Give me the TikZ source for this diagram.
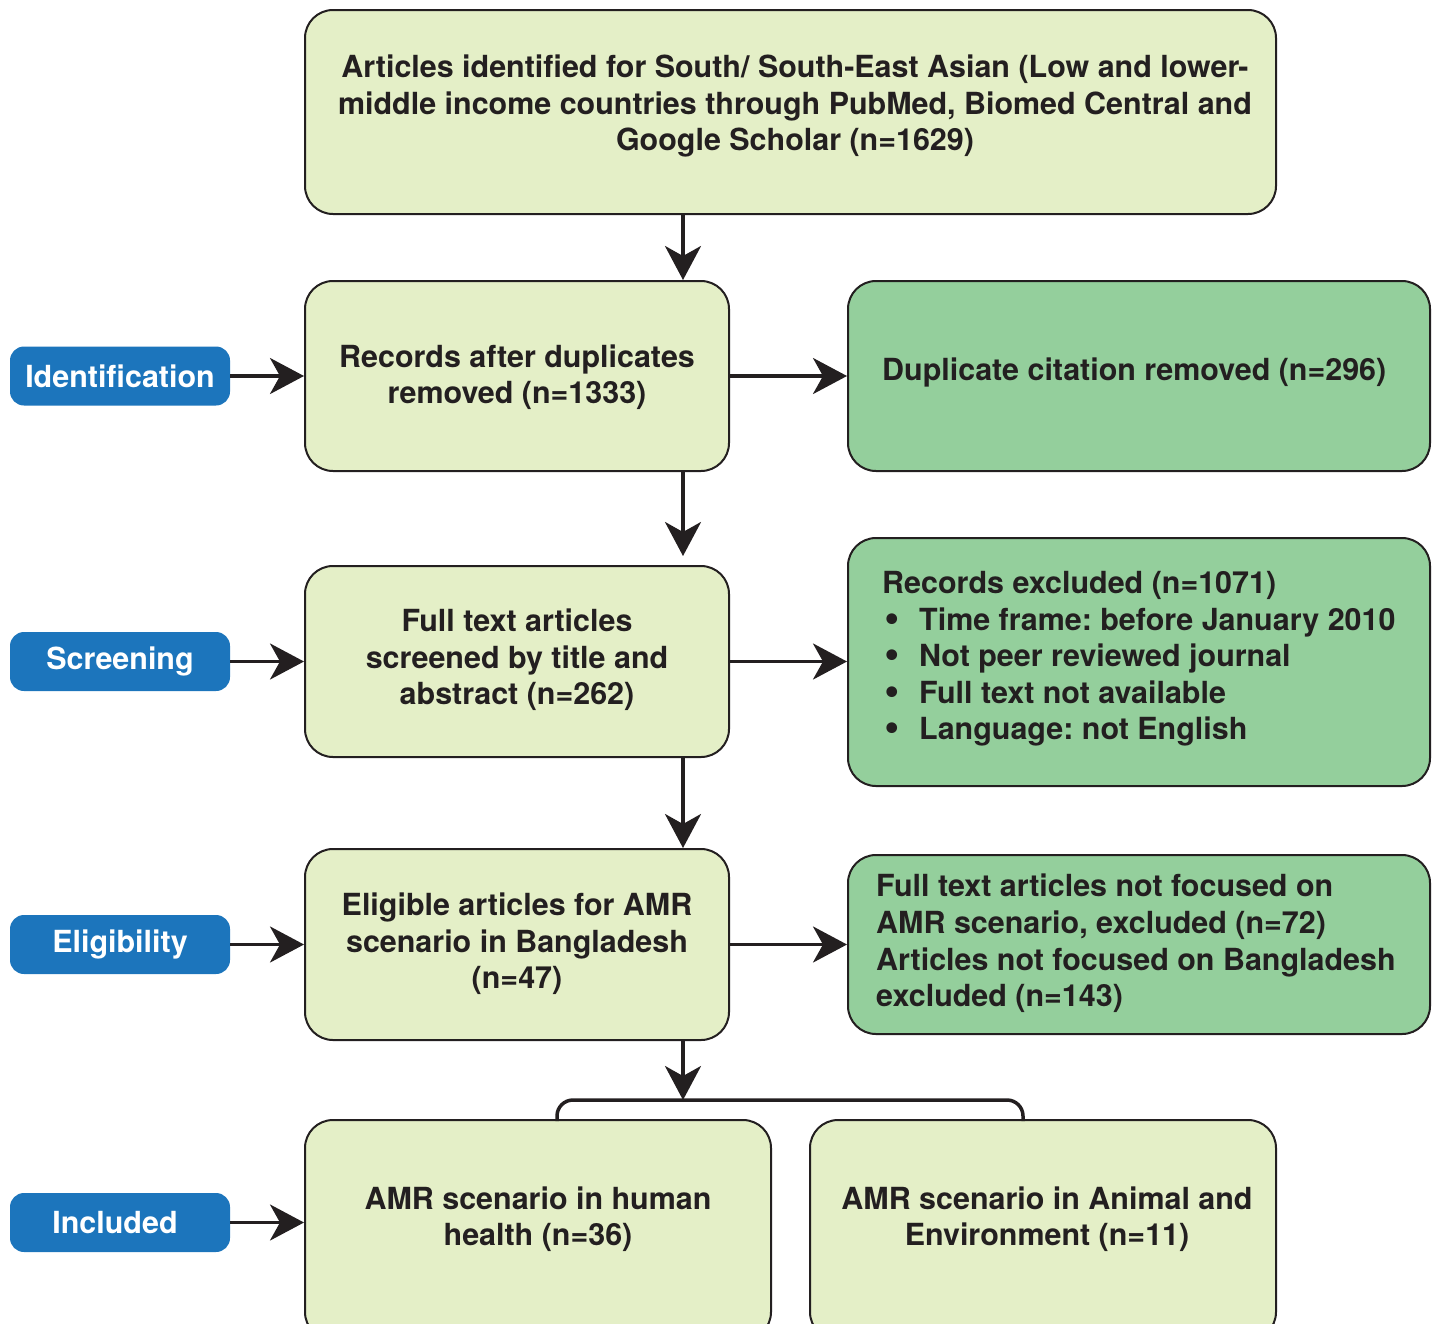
\documentclass[tikz,border=0pt]{standalone}
\usepackage{fontspec}
\setmainfont{TeX Gyre Heros}
\newfontfamily\dvs{DejaVu Sans}
\usetikzlibrary{arrows.meta}
\definecolor{lightg}{HTML}{E4EFC7}
\definecolor{midg}{HTML}{94CF9C}
\definecolor{blueb}{HTML}{1C75BC}
\definecolor{ink}{HTML}{231F20}
\newcommand{\bigtxt}{\fontsize{30.45}{36.6}\selectfont\bfseries}
\newcommand{\bul}{\makebox[37pt][l]{{\dvs\bfseries •}}}
\frenchspacing
\begin{document}
\begin{tikzpicture}[x=1pt,y=-1pt,
  boxl/.style={draw=ink, line width=2pt, rounded corners=28pt, fill=lightg, inner sep=0pt},
  boxd/.style={draw=ink, line width=2pt, rounded corners=28pt, fill=midg, inner sep=0pt},
  tag/.style={fill=blueb, rounded corners=14pt, minimum width=220pt, minimum height=59pt, inner sep=0pt, text=white, font=\bigtxt},
  txtc/.style={align=center, inner sep=0pt, font=\bigtxt, text=ink},
  txtl/.style={align=left, inner sep=0pt, font=\bigtxt, text=ink, anchor=west},
  arr/.style={draw=ink, line width=3.5pt, -{Stealth[length=34pt, width=36pt, inset=10pt]}},
  brk/.style={draw=ink, line width=3.5pt, rounded corners=16pt}]
\useasboundingbox (0,0) rectangle (1434,1323);
\clip (0,0) rectangle (1434,1323);
% boxes
\node[boxl, minimum width=971pt, minimum height=204pt] (top) at (790.5,112) {};
\node[boxl, minimum width=424pt, minimum height=190pt] (rad) at (517,376) {};
\node[boxd, minimum width=582pt, minimum height=190pt] (dup) at (1139,376) {};
\node[boxl, minimum width=424pt, minimum height=191pt] (ft) at (517,661.5) {};
\node[boxd, minimum width=582pt, minimum height=248pt] (rex) at (1139,662) {};
\node[boxl, minimum width=424pt, minimum height=191pt] (elig) at (517,944.5) {};
\node[boxd, minimum width=582pt, minimum height=179pt] (nf) at (1139,944.5) {};
\node[boxl, minimum width=466pt, minimum height=220pt] (hum) at (538,1230) {};
\node[boxl, minimum width=466pt, minimum height=220pt] (ani) at (1043,1230) {};
% texts
\node[txtc] (topt) at (795,106) {Articles identified for South/ South-East Asian (Low and lower-\\middle income countries through PubMed, Biomed Central and\\Google Scholar (n=1629)};
\node[txtc] (radt) at (517,377) {Records after duplicates\\removed (n=1333)};
\node[txtl] (dupt) at (882,372) {Duplicate citation removed (n=296)};
\node[txtc] (ftt) at (517,660) {Full text articles\\screened by title and\\abstract (n=262)};
\node[txtl] (rext) at (882,659) {Records excluded (n=1071)\\
\bul Time frame: before January 2010\\
\bul Not peer reviewed journal\\
\bul Full text not available\\
\bul Language: not English};
\node[txtc] (eligt) at (517,944) {Eligible articles for AMR\\scenario in Bangladesh\\(n=47)};
\node[txtl] (nft) at (876,943.5) {Full text articles not focused on\\AMR scenario, excluded (n=72)\\Articles not focused on Bangladesh\\excluded (n=143)};
\node[txtc] (humt) at (538,1219) {AMR scenario in human\\health (n=36)};
\node[txtc] (anit) at (1047,1219) {AMR scenario in Animal and\\Environment (n=11)};
% tags
\node[tag] (tid) at (120,376) {Identification};
\node[tag] (tsc) at (120,661.5) {Screening};
\node[tag] (tel) at (120,944.5) {Eligibility};
\node[tag] (tin) at (120,1222.5) {\hspace*{-10pt}Included};
% connectors
\coordinate (vx) at (683,0);
\coordinate (bl) at (557,1121);
\coordinate (br) at (1023,1121);
\coordinate (bt) at (683,1100);
\draw[arr] (top.south -| vx) -- (rad.north -| vx);
\draw[arr] (rad.south -| vx) -- ([yshift=9pt]ft.north -| vx);
\draw[arr] (ft.south -| vx) -- (elig.north -| vx);
\draw[arr] (elig.south -| vx) -- (bt);
\draw[brk] (bl) -- (bl |- bt) -- (br |- bt) -- (br);
\draw[arr] (tid.east) -- (tid.east -| rad.west);
\draw[arr] (tsc.east) -- (tsc.east -| ft.west);
\draw[arr] (tel.east) -- (tel.east -| elig.west);
\draw[arr] (tin.east) -- (tin.east -| hum.west);
\draw[arr] (rad.east) -- (rad.east -| dup.west);
\draw[arr] (ft.east) -- (ft.east -| rex.west);
\draw[arr] (elig.east) -- (elig.east -| nf.west);
\end{tikzpicture}
\end{document}
